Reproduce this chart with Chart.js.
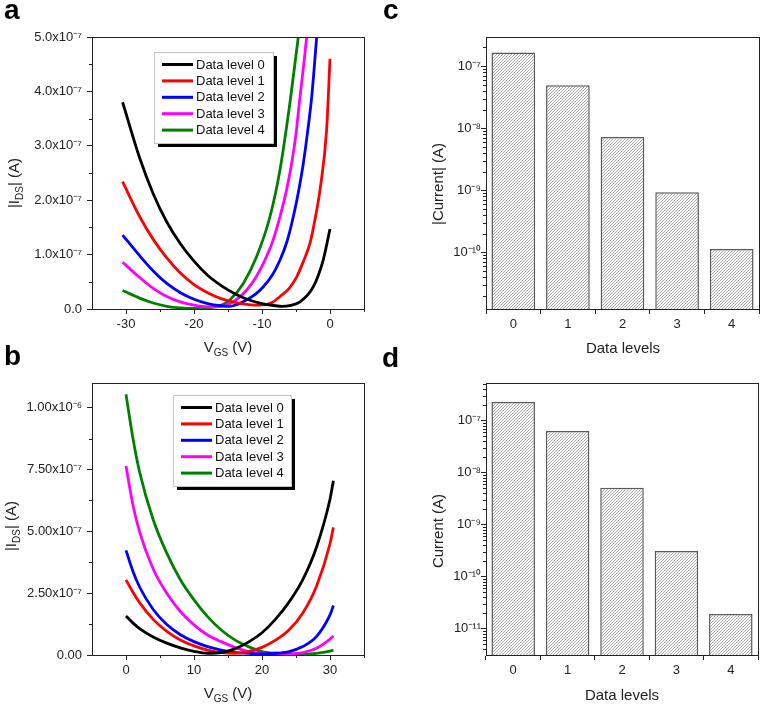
<!DOCTYPE html>
<html lang="en">
<head>
<meta charset="UTF-8">
<title>Data levels - I_DS vs V_GS</title>
<script src="https://cdn.jsdelivr.net/npm/chart.js"></script>
<style>
    body { margin: 0; background: #fff; overflow: hidden; }
    #fig { position: relative; width: 763px; height: 709px; }
    canvas { position: absolute; }
    .t { position: absolute; font: 15px 'Liberation Sans', Arial, sans-serif; color: #222; white-space: nowrap; transform: translate(-50%, -50%); }
    .t.r { transform: translate(-50%, -50%) rotate(-90deg); }
    .t sub { font-size: 10px; vertical-align: -4px; }
    .p { position: absolute; font: bold 28px 'Liberation Sans', Arial, sans-serif; line-height: 1; color: #000; }
</style>
</head>
<body>
<div id="fig">
    <canvas id="chartA" width="380" height="340" style="left:0;top:0"></canvas>
    <canvas id="chartB" width="380" height="340" style="left:0;top:345px"></canvas>
    <canvas id="chartC" width="383" height="340" style="left:380px;top:0"></canvas>
    <canvas id="chartD" width="383" height="340" style="left:380px;top:345px"></canvas>

    <div class="p" style="left:4px;top:-4px">a</div>
    <div class="p" style="left:383px;top:-4px">c</div>
    <div class="p" style="left:4px;top:342px">b</div>
    <div class="p" style="left:382px;top:344px">d</div>

    <div class="t" style="left:228px;top:348px">V<sub>GS</sub> (V)</div>
    <div class="t" style="left:228px;top:694px">V<sub>GS</sub> (V)</div>
    <div class="t r" style="left:15px;top:183px">|I<sub>DS</sub>| (A)</div>
    <div class="t r" style="left:12px;top:526px">|I<sub>DS</sub>| (A)</div>
    <div class="t" style="left:623px;top:347px">Data levels</div>
    <div class="t" style="left:622px;top:694px">Data levels</div>
    <div class="t r" style="left:437px;top:184px">|Current| (A)</div>
    <div class="t r" style="left:437px;top:531px">Current (A)</div>
</div>

<script>
    // ---- panel a : |I_DS| vs V_GS (negative sweep) ----
    const vgsA0 = [-30.5, -28, -26, -24, -22, -20, -18, -16, -14, -12, -10, -8, -7, -6, -4.4, -2.45, -1, 0];
    const idsA0 = [3.80e-7, 2.78e-7, 2.12e-7, 1.60e-7, 1.20e-7, 0.88e-7, 0.62e-7, 0.43e-7, 0.28e-7, 0.17e-7, 0.10e-7, 0.06e-7, 0.05e-7, 0.06e-7, 0.13e-7, 0.41e-7, 0.90e-7, 1.47e-7];
    const vgsA1 = [-30.5, -28, -26, -24, -22, -20, -18, -16, -14, -12, -10.3, -8.5, -7.35, -6, -4.9, -3.9, -2.94, -2.2, -1.47, -0.5, 0];
    const idsA1 = [2.34e-7, 1.70e-7, 1.28e-7, 0.94e-7, 0.66e-7, 0.45e-7, 0.30e-7, 0.19e-7, 0.12e-7, 0.08e-7, 0.07e-7, 0.12e-7, 0.23e-7, 0.38e-7, 0.59e-7, 0.88e-7, 1.21e-7, 1.65e-7, 2.19e-7, 3.29e-7, 4.60e-7];
    const vgsA2 = [-30.5, -28, -26, -24, -22, -20, -18, -16, -14.7, -13.5, -12.25, -11, -9.8, -8.5, -7.35, -6.3, -5.39, -4.6, -3.92, -3.3, -2.69, -1.96, -1.4];
    const idsA2 = [1.36e-7, 0.98e-7, 0.70e-7, 0.47e-7, 0.30e-7, 0.18e-7, 0.10e-7, 0.06e-7, 0.05e-7, 0.09e-7, 0.17e-7, 0.27e-7, 0.41e-7, 0.62e-7, 0.90e-7, 1.25e-7, 1.70e-7, 2.18e-7, 2.68e-7, 3.25e-7, 3.90e-7, 5.0e-7, 5.9e-7];
    const vgsA3 = [-30.5, -28, -26, -24, -22, -20, -18, -16, -14.7, -13.5, -12.25, -11, -9.8, -8.5, -7.35, -6.4, -5.64, -5, -4.41, -3.9, -3.43, -2.9];
    const idsA3 = [0.86e-7, 0.58e-7, 0.38e-7, 0.23e-7, 0.13e-7, 0.07e-7, 0.04e-7, 0.05e-7, 0.10e-7, 0.20e-7, 0.35e-7, 0.56e-7, 0.84e-7, 1.22e-7, 1.70e-7, 2.18e-7, 2.68e-7, 3.22e-7, 3.90e-7, 4.45e-7, 5.0e-7, 5.7e-7];
    const vgsA4 = [-30.5, -28, -26, -24, -22, -20, -18, -16, -14.7, -12.75, -10.8, -8.82, -7.35, -5.88, -4.66, -4.1];
    const idsA4 = [0.34e-7, 0.20e-7, 0.11e-7, 0.05e-7, 0.02e-7, 0.01e-7, 0.02e-7, 0.07e-7, 0.17e-7, 0.47e-7, 0.96e-7, 1.70e-7, 2.56e-7, 3.80e-7, 5.0e-7, 5.6e-7];
    const ticksAx = [-30, -20, -10, 0];
    const ticksAy = [0, 1e-7, 2e-7, 3e-7, 4e-7, 5e-7];

    // ---- panel b : |I_DS| vs V_GS (positive sweep) ----
    const vgsB = [0, 1, 2, 4, 6, 8, 10, 12, 14, 16, 18, 20, 22, 24, 26, 28, 30, 30.5];
    const idsB0 = [1.58e-7, 1.30e-7, 1.07e-7, 0.73e-7, 0.48e-7, 0.29e-7, 0.15e-7, 0.07e-7, 0.10e-7, 0.25e-7, 0.52e-7, 0.90e-7, 1.45e-7, 2.15e-7, 3.05e-7, 4.35e-7, 6.30e-7, 7.05e-7];
    const idsB1 = [3.04e-7, 2.55e-7, 2.12e-7, 1.44e-7, 0.96e-7, 0.61e-7, 0.37e-7, 0.20e-7, 0.10e-7, 0.07e-7, 0.14e-7, 0.31e-7, 0.60e-7, 1.02e-7, 1.70e-7, 2.77e-7, 4.50e-7, 5.16e-7];
    const idsB2 = [4.23e-7, 3.40e-7, 2.75e-7, 1.84e-7, 1.23e-7, 0.82e-7, 0.54e-7, 0.34e-7, 0.20e-7, 0.11e-7, 0.07e-7, 0.04e-7, 0.07e-7, 0.14e-7, 0.34e-7, 0.74e-7, 1.62e-7, 2.00e-7];
    const idsB3 = [7.64e-7, 6.10e-7, 4.98e-7, 3.48e-7, 2.50e-7, 1.76e-7, 1.22e-7, 0.81e-7, 0.54e-7, 0.31e-7, 0.14e-7, 0.05e-7, 0.03e-7, 0.04e-7, 0.10e-7, 0.27e-7, 0.64e-7, 0.77e-7];
    const idsB4 = [10.54e-7, 8.80e-7, 7.40e-7, 5.47e-7, 4.12e-7, 3.04e-7, 2.23e-7, 1.55e-7, 1.01e-7, 0.61e-7, 0.34e-7, 0.14e-7, 0.07e-7, 0.04e-7, 0.04e-7, 0.07e-7, 0.16e-7, 0.20e-7];
    const ticksBx = [0, 10, 20, 30];
    const ticksBy = [0, 2.5e-7, 5e-7, 7.5e-7, 1e-6];

    // ---- panels c and d : current per data level ----
    const levels = ['0', '1', '2', '3', '4'];
    const currentC = [1.66e-7, 4.94e-8, 7.2e-9, 9.3e-10, 1.13e-10];
    const currentD = [2.26e-7, 6.25e-8, 5.1e-9, 3.1e-10, 1.9e-11];
    const ticksCy = [1e-10, 1e-9, 1e-8, 1e-7];
    const ticksDy = [1e-11, 1e-10, 1e-9, 1e-8, 1e-7];

    const seriesNames = ['Data level 0', 'Data level 1', 'Data level 2', 'Data level 3', 'Data level 4'];
    const seriesColors = ['#000000', '#ff0000', '#0000ff', '#ff00ff', '#008000'];

    const AXIS = '#222';
    const FONT = "'Liberation Sans', Arial, Helvetica, sans-serif";
    Chart.defaults.font.family = FONT;
    Chart.defaults.font.size = 13;
    Chart.defaults.color = '#222';
    Chart.defaults.animation = false;

    const SUP = { '-': '\u207B', '0': '\u2070', '1': '\u00B9', '2': '\u00B2', '3': '\u00B3', '4': '\u2074',
                  '5': '\u2075', '6': '\u2076', '7': '\u2077', '8': '\u2078', '9': '\u2079' };
    const sup = n => String(n).split('').map(c => SUP[c]).join('');

    function sciLabel(v, digits) {
        if (Math.abs(v) < 1e-20) return (0).toFixed(digits);
        const e = Math.floor(Math.log10(v) + 1e-9);
        return (v / Math.pow(10, e)).toFixed(digits) + 'x10' + sup(e);
    }
    const powLabel = v => '10' + sup(Math.round(Math.log10(v)));
    const fixTicks = list => scale => { scale.ticks = list.map(v => ({ value: v })); };

    // minor ticks (half steps on linear, 2..9 on log) + closing box
    function minorValues(s) {
        const t = s.ticks.map(k => k.value);
        let out = [];
        if (s.type === 'linear' && t.length > 1) {
            const step = t[1] - t[0];
            out = [t[0] - step / 2].concat(t.map(v => v + step / 2));
        } else if (s.type === 'logarithmic') {
            for (let e = Math.floor(Math.log10(s.min)); e <= Math.ceil(Math.log10(s.max)); e++)
                for (let k = 2; k <= 9; k++) out.push(k * Math.pow(10, e));
        }
        return out.filter(v => v >= s.min * (1 - 1e-9) && v <= s.max * (1 + 1e-9));
    }

    const framePlugin = {
        id: 'frame',
        afterDraw(chart) {
            const { ctx, chartArea: a, scales } = chart;
            ctx.save();
            ctx.strokeStyle = AXIS;
            ctx.lineWidth = 1;
            ctx.strokeRect(Math.round(a.left) + 0.5, Math.round(a.top) + 0.5,
                Math.round(a.right - a.left), Math.round(a.bottom - a.top));
            ctx.beginPath();
            Object.values(scales).forEach(s => {
                minorValues(s).forEach(v => {
                    const p = Math.round(s.getPixelForValue(v)) + 0.5;
                    if (s.isHorizontal()) { ctx.moveTo(p, a.bottom); ctx.lineTo(p, a.bottom + 3); }
                    else { ctx.moveTo(a.left, p); ctx.lineTo(a.left - 3, p); }
                });
            });
            ctx.stroke();
            ctx.restore();
        }
    };

    // Origin-style legend box with drop shadow, placed inside the plot
    const boxLegend = {
        id: 'boxLegend',
        afterDatasetsDraw(chart, args, o) {
            if (!o.box) return;
            const { ctx, chartArea: a } = chart;
            const [bx, by, w, h] = o.box;
            const x = Math.round(a.left + bx), y = Math.round(a.top + by);
            ctx.save();
            ctx.fillStyle = '#000';
            ctx.fillRect(x + 4, y + 4, w, h);
            ctx.fillStyle = '#fff';
            ctx.fillRect(x, y, w, h);
            ctx.strokeStyle = '#c4c4c4';
            ctx.lineWidth = 1;
            ctx.strokeRect(x + 0.5, y + 0.5, w, h);
            ctx.font = '13px ' + FONT;
            ctx.textBaseline = 'middle';
            chart.data.datasets.forEach((d, i) => {
                const ry = y + 12.5 + i * 16.4;
                ctx.strokeStyle = d.borderColor;
                ctx.lineWidth = 3;
                ctx.beginPath();
                ctx.moveTo(x + 8, ry);
                ctx.lineTo(x + 39, ry);
                ctx.stroke();
                ctx.fillStyle = '#111';
                ctx.fillText(d.label, x + 42, ry + 0.5);
            });
            ctx.restore();
        }
    };

    function axisGrid() {
        return { drawOnChartArea: false, tickLength: 5, color: AXIS, tickWidth: 1 };
    }

    function curveChart(id, xs, ys, xRange, yRange, xTicks, yTicks, yDigits, box, pad, xH) {
        const datasets = ys.map((arr, i) => ({
            label: seriesNames[i],
            data: arr.map((v, j) => ({ x: (Array.isArray(xs[0]) ? xs[i] : xs)[j], y: v })),
            borderColor: seriesColors[i],
            borderWidth: 2.8,
            pointRadius: 0,
            cubicInterpolationMode: 'monotone',
            fill: false
        }));
        return new Chart(document.getElementById(id), {
            type: 'line',
            data: { datasets },
            options: {
                responsive: false,
                layout: { padding: pad },
                plugins: { legend: { display: false }, tooltip: { enabled: false }, boxLegend: { box } },
                scales: {
                    x: {
                        type: 'linear', min: xRange[0], max: xRange[1],
                        afterBuildTicks: fixTicks(xTicks),
                        afterFit: s => { s.height = xH; },
                        ticks: { padding: 3, maxRotation: 0, autoSkip: false },
                        grid: axisGrid(), border: { color: AXIS }
                    },
                    y: {
                        type: 'linear', min: yRange[0], max: yRange[1],
                        afterBuildTicks: fixTicks(yTicks),
                        afterFit: s => { s.width = 92; },
                        ticks: { padding: 5, autoSkip: false, callback: v => sciLabel(v, yDigits) },
                        grid: axisGrid(), border: { color: AXIS }
                    }
                }
            },
            plugins: [framePlugin, boxLegend]
        });
    }

    function hatchPattern(ctx) {
        const c = document.createElement('canvas');
        c.width = 3; c.height = 3;
        const g = c.getContext('2d');
        g.fillStyle = '#fff';
        g.fillRect(0, 0, 3, 3);
        g.strokeStyle = '#a8a8a8';
        g.lineWidth = 1;
        g.beginPath();
        g.moveTo(-1, 4); g.lineTo(4, -1);
        g.stroke();
        return ctx.createPattern(c, 'repeat');
    }

    function barChart(id, values, yRange, yTicks, pad, xH) {
        const el = document.getElementById(id);
        return new Chart(el, {
            type: 'bar',
            data: {
                labels: levels,
                datasets: [{
                    data: values,
                    backgroundColor: hatchPattern(el.getContext('2d')),
                    borderColor: '#5a5a5a',
                    borderWidth: 1.5,
                    categoryPercentage: 1,
                    barPercentage: 0.8
                }]
            },
            options: {
                responsive: false,
                layout: { padding: pad },
                plugins: { legend: { display: false }, tooltip: { enabled: false } },
                scales: {
                    x: {
                        afterFit: s => { s.height = xH; },
                        ticks: { padding: 3, maxRotation: 0 },
                        grid: Object.assign(axisGrid(), { offset: true }),
                        border: { color: AXIS }
                    },
                    y: {
                        type: 'logarithmic', min: yRange[0], max: yRange[1],
                        afterBuildTicks: fixTicks(yTicks),
                        afterFit: s => { s.width = 106; },
                        ticks: { padding: 0, autoSkip: false, callback: v => powLabel(v) },
                        grid: axisGrid(), border: { color: AXIS }
                    }
                }
            },
            plugins: [framePlugin]
        });
    }

    curveChart('chartA', [vgsA0, vgsA1, vgsA2, vgsA3, vgsA4], [idsA0, idsA1, idsA2, idsA3, idsA4],
        [-35, 5], [0, 5e-7], ticksAx, ticksAy, 1, [62, 15, 119, 91],
        { top: 37, right: 16, left: 0, bottom: 0 }, 31);

    curveChart('chartB', vgsB, [idsB0, idsB1, idsB2, idsB3, idsB4],
        [-5, 35], [0, 1.1e-6], ticksBx, ticksBy, 2, [81, 12, 118, 91],
        { top: 38, right: 16, left: 0, bottom: 0 }, 30);

    barChart('chartC', currentC, [1.22e-11, 2.95e-7], ticksCy, { top: 37, right: 4, left: 0, bottom: 0 }, 31);
    barChart('chartD', currentD, [3.1e-12, 5.25e-7], ticksDy, { top: 38, right: 5, left: 0, bottom: 0 }, 30);
</script>
</body>
</html>
